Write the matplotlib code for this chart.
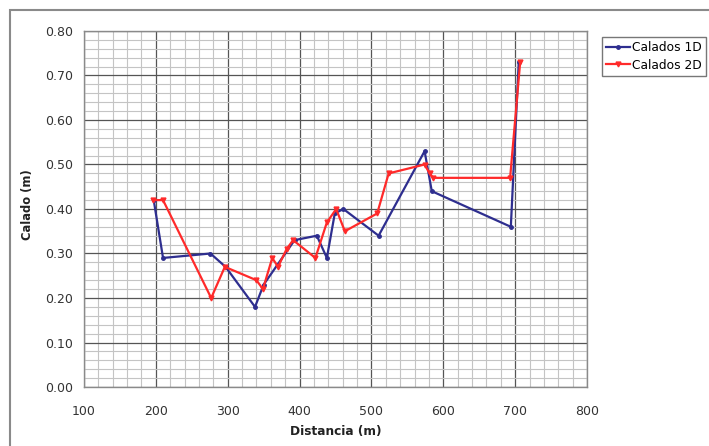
import matplotlib
matplotlib.use("Agg")
import matplotlib.pyplot as plt
from matplotlib.ticker import MultipleLocator, FormatStrFormatter
from matplotlib.patches import Rectangle

plt.rcParams["font.family"] = ["DejaVu Sans"]

# ─── DATA ────────────────────────────────────────────────
dist_1d = [197, 210, 276, 297, 338, 350, 393, 424, 438, 449, 461, 510, 574, 584, 694, 705]
calado_1d = [0.42, 0.29, 0.30, 0.27, 0.18, 0.23, 0.33, 0.34, 0.29, 0.39, 0.40, 0.34, 0.53, 0.44, 0.36, 0.73]

dist_2d = [196, 210, 277, 296, 340, 349, 362, 370, 382, 391, 422, 438, 451, 463, 508, 524, 574, 581, 586, 693, 707]
calado_2d = [0.42, 0.42, 0.20, 0.27, 0.24, 0.22, 0.29, 0.27, 0.31, 0.33, 0.29, 0.37, 0.40, 0.35, 0.39, 0.48, 0.50, 0.48, 0.47, 0.47, 0.73]

BLUE = "#2E2E8F"
RED = "#FF2A2A"
TXT = "#333333"

fig = plt.figure(figsize=(7.09, 4.46), dpi=100)
fig.patch.set_facecolor("white")

# outer frame of the chart (runs off the right and bottom edges)
fig.patches.append(Rectangle((10 / 709, -0.2), 1.2, 1.2 - 10 / 446,
                             transform=fig.transFigure, fill=False,
                             edgecolor="#8A8A8A", lw=1.5))

ax = fig.add_axes([84 / 709, 1 - 387 / 446, (587 - 84) / 709, (387 - 31) / 446])

ax.plot(dist_1d, calado_1d, color=BLUE, lw=1.6, marker="o", ms=2.5,
        label="Calados 1D", zorder=3)
ax.plot(dist_2d, calado_2d, color=RED, lw=1.6, marker="v", ms=3.5,
        label="Calados 2D", zorder=4)

ax.set_xlim(100, 800)
ax.set_ylim(0, 0.80)
ax.xaxis.set_major_locator(MultipleLocator(100))
ax.xaxis.set_minor_locator(MultipleLocator(20))
ax.yaxis.set_major_locator(MultipleLocator(0.1))
ax.yaxis.set_minor_locator(MultipleLocator(0.02))
ax.yaxis.set_major_formatter(FormatStrFormatter("%.2f"))

ax.grid(which="major", color="#555555", lw=0.9)
ax.grid(which="minor", color="#C4C4C4", lw=0.8)
ax.set_axisbelow(True)
for s in ax.spines.values():
    s.set_color("#8A8A8A")
    s.set_linewidth(1.0)

ax.tick_params(which="both", length=0)
ax.tick_params(axis="y", pad=8, labelsize=9, labelcolor=TXT)
ax.tick_params(axis="x", pad=13, labelsize=9, labelcolor=TXT)

ax.set_xlabel("Distancia (m)", fontsize=8.7, fontweight="bold", color="#222222")
ax.set_ylabel("Calado (m)", fontsize=8.3, fontweight="bold", color="#222222")
ax.xaxis.set_label_coords(0.501, (387 - 432) / 356)
ax.yaxis.set_label_coords((28 - 84) / 503, (387 - 205) / 356)
ax.xaxis.label.set_va("center")
ax.yaxis.label.set_va("center")

# legend sits at the right edge, as in the original
fig.legend(loc="upper left", bbox_to_anchor=(602 / 709, 1 - 37 / 446),
           fontsize=8.8, frameon=True, fancybox=False, edgecolor="#555555",
           handlelength=1.9, handletextpad=0.2, borderpad=0.35,
           labelspacing=0.35, borderaxespad=0)

fig.savefig("out.png", dpi=100, facecolor="white")
plt.close()
